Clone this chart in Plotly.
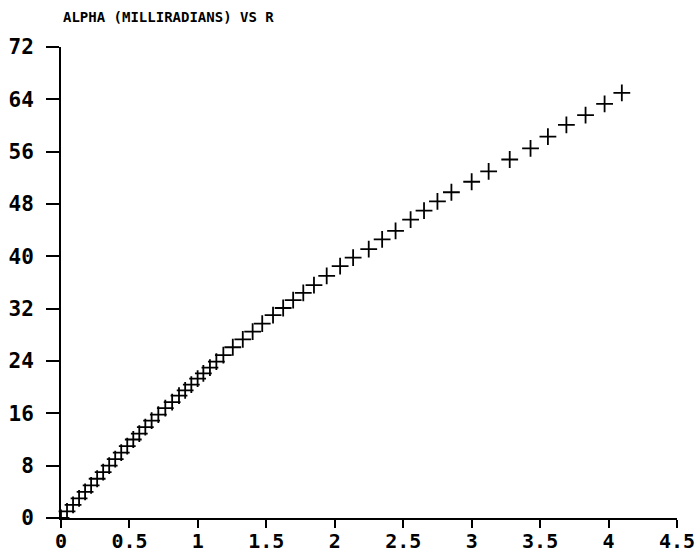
import plotly.graph_objects as go

# Data
r_values = [0.000, 0.044, 0.088, 0.132, 0.176, 0.220, 0.264, 0.308, 0.352, 0.396,
            0.440, 0.484, 0.528, 0.572, 0.616, 0.662, 0.711, 0.762, 0.812, 0.862,
            0.907, 0.952, 0.998, 1.040, 1.088, 1.135, 1.186, 1.255, 1.328, 1.400,
            1.470, 1.549, 1.623, 1.696, 1.770, 1.848, 1.941, 2.039, 2.134, 2.248,
            2.346, 2.444, 2.554, 2.652, 2.750, 2.852, 3.000, 3.124, 3.278, 3.430,
            3.557, 3.692, 3.832, 3.971, 4.097]
alpha_mrad = [0.0, 1.0, 2.0, 3.0, 4.0, 5.0, 6.0, 7.0, 8.0, 9.0,
              10.0, 11.0, 12.0, 12.9, 13.9, 14.9, 15.8, 16.8, 17.7, 18.7,
              19.5, 20.4, 21.3, 22.1, 23.0, 23.9, 24.9, 26.1, 27.3, 28.5,
              29.7, 31.0, 32.1, 33.3, 34.4, 35.6, 37.0, 38.5, 39.8, 41.1,
              42.6, 43.9, 45.6, 47.0, 48.4, 49.8, 51.4, 53.0, 54.8, 56.5,
              58.3, 60.1, 61.6, 63.3, 65.0]

x_tickvals = [0, 0.5, 1, 1.5, 2, 2.5, 3, 3.5, 4, 4.5]
x_ticktext = ["0", "0.5", "1", "1.5", "2", "2.5", "3", "3.5", "4", "4.5"]
y_tickvals = [0, 8, 16, 24, 32, 40, 48, 56, 64, 72]
y_ticktext = ["0", "8", "16", "24", "32", "40", "48", "56", "64", "72"]
title_text = "ALPHA (MILLIRADIANS) VS R"

FONT = "DejaVu Sans Mono"

fig = go.Figure()
fig.add_trace(go.Scatter(
    x=r_values, y=alpha_mrad, mode="markers",
    marker=dict(symbol="cross-thin", size=12, color="black",
                line=dict(width=1.8, color="black")),
    cliponaxis=False, showlegend=False,
))

fig.update_layout(
    width=700, height=560,
    margin=dict(l=61, r=23, t=47, b=42, pad=0),
    paper_bgcolor="white", plot_bgcolor="white",
    font=dict(family=FONT, size=20, color="black", weight="bold"),
    xaxis=dict(range=[0, 4.5], tickvals=x_tickvals, ticktext=x_ticktext,
               showgrid=False, zeroline=False, showline=True, linecolor="black",
               linewidth=2, ticks="outside", ticklen=8, tickwidth=2,
               tickcolor="black", ticklabelstandoff=-4, automargin=False,
               tickfont=dict(family=FONT, size=20, color="black", weight="bold")),
    yaxis=dict(range=[0, 72], tickvals=y_tickvals, ticktext=y_ticktext,
               showgrid=False, zeroline=False, showline=True, linecolor="black",
               linewidth=2, ticks="outside", ticklen=13, tickwidth=2,
               tickcolor="black", ticklabelstandoff=8, automargin=False,
               tickfont=dict(family=FONT, size=21, color="black", weight="bold")),
    annotations=[dict(text=title_text, xref="paper", yref="paper",
                      x=0, y=1, xanchor="left", yanchor="bottom", yshift=20,
                      showarrow=False,
                      font=dict(family=FONT, size=14, color="black", weight="bold"))],
)

fig.write_html("out.html")
